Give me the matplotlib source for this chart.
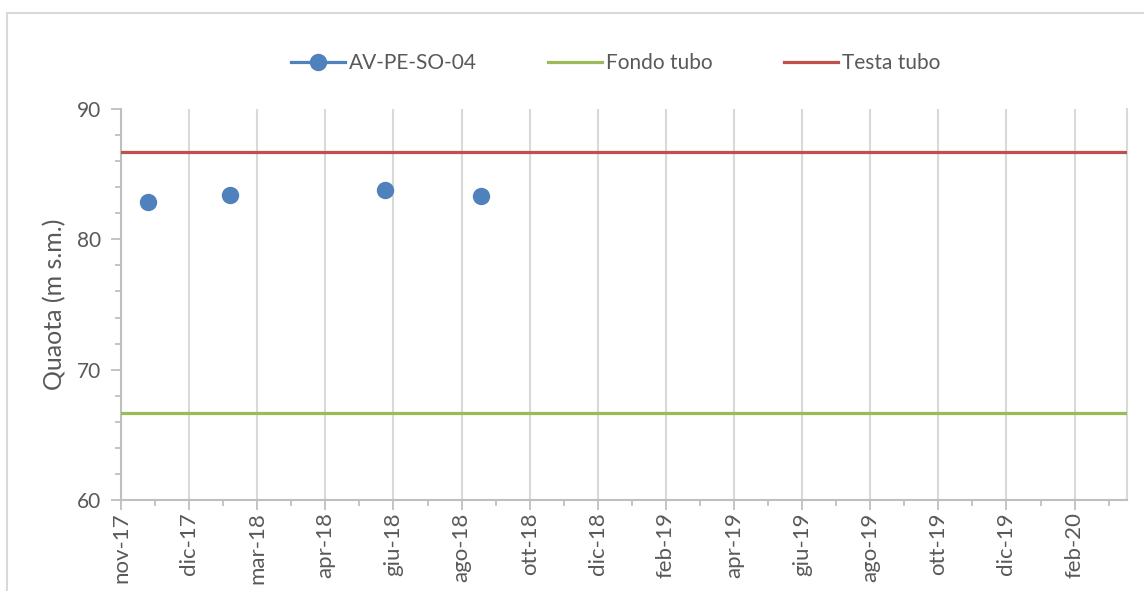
import datetime as dt
import matplotlib
matplotlib.use('Agg')
import matplotlib.pyplot as plt
import matplotlib.dates as mdates
from matplotlib.lines import Line2D
from matplotlib.ticker import FixedLocator, MultipleLocator

# data
dates = ['2017-11-25', '2018-02-07', '2018-06-25', '2018-09-19']
quota = [82.9, 83.4, 83.75, 83.35]
fondo_tubo = 66.7
testa_tubo = 86.7
tick_labels = ['nov-17', 'dic-17', 'mar-18', 'apr-18', 'giu-18', 'ago-18',
               'ott-18', 'dic-18', 'feb-19', 'apr-19', 'giu-19', 'ago-19',
               'ott-19', 'dic-19', 'feb-20']
axis_start = '2017-11-01'
major_days = 61
axis_days = 901

grey_txt = '#595959'
blue = '#4F81BD'
green = '#9BBB59'
red = '#C0504D'

plt.rcParams['font.family'] = ['Lato', 'DejaVu Sans']
plt.rcParams['font.size'] = 15

fig = plt.figure(figsize=(11.44, 5.91), dpi=100)
ax = fig.add_axes([0.1058, 0.154, 0.8794, 0.6616])

start = mdates.date2num(dt.datetime.strptime(axis_start, '%Y-%m-%d'))
xs = [mdates.date2num(dt.datetime.strptime(d, '%Y-%m-%d')) for d in dates]

ax.plot(xs, quota, linestyle='none', marker='o', markersize=11.5,
        color=blue, zorder=4)
ax.axhline(testa_tubo, color=red, lw=2.3, zorder=3)
ax.axhline(fondo_tubo, color=green, lw=2.3, zorder=3)

ax.set_xlim(start, start + axis_days)
ax.set_ylim(60, 90)

major = [start + i * major_days for i in range(len(tick_labels))]
ax.xaxis.set_major_locator(FixedLocator(major))
ax.xaxis.set_minor_locator(FixedLocator([m + major_days / 2 for m in major]))
ax.set_xticklabels(tick_labels, rotation=90, color=grey_txt, fontsize=16)
ax.yaxis.set_major_locator(MultipleLocator(10))
ax.yaxis.set_minor_locator(MultipleLocator(2))
ax.tick_params(axis='y', colors='#BFBFBF', labelcolor=grey_txt, width=1.3, length=7, pad=7)
ax.tick_params(axis='x', colors='#BFBFBF', labelcolor=grey_txt, width=1.3, length=7, pad=2)
ax.tick_params(which='minor', colors='#BFBFBF', width=1.3, length=4)
ax.grid(axis='x', which='major', color='#D9D9D9', lw=1.5)
ax.set_axisbelow(True)

for s in ['left', 'bottom']:
    ax.spines[s].set_color('#BFBFBF')
    ax.spines[s].set_linewidth(1.5)
ax.spines['top'].set_visible(False)
ax.spines['right'].set_color('#D9D9D9')
ax.spines['right'].set_linewidth(1.5)

ax.set_ylabel('Quaota (m s.m.)', color=grey_txt, fontsize=18, labelpad=8)

handles = [
    Line2D([], [], color=blue, lw=2.3, marker='o', markersize=11.5),
    Line2D([], [], color=green, lw=2.3),
    Line2D([], [], color=red, lw=2.3),
]
fig.legend(handles, ['AV-PE-SO-04', 'Fondo tubo', 'Testa tubo'],
           loc='center', bbox_to_anchor=(0.538, 0.893), ncol=3, frameon=False,
           handlelength=2.6, handletextpad=0.2, columnspacing=3.4,
           labelcolor=grey_txt)

# outer chart border
fig.add_artist(Line2D([7 / 1144, 7 / 1144], [0, 1 - 13 / 591],
                      transform=fig.transFigure, color='#D9D9D9', lw=1.5))
fig.add_artist(Line2D([7 / 1144, 1], [1 - 13 / 591, 1 - 13 / 591],
                      transform=fig.transFigure, color='#D9D9D9', lw=1.5))

fig.savefig('out.png', dpi=100)
